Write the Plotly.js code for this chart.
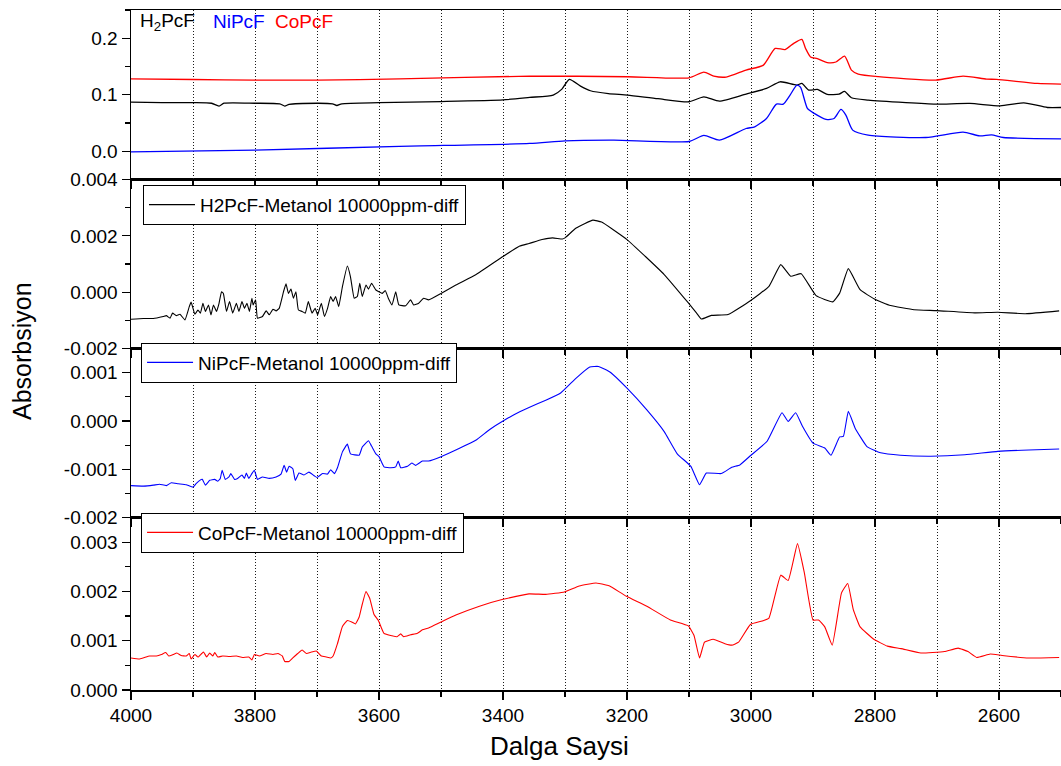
<!DOCTYPE html>
<html>
<head>
<meta charset="utf-8">
<script src="https://cdn.plot.ly/plotly-3.0.1.min.js"></script>
<style>
  html, body { margin: 0; padding: 0; background: #fff; }
  #chart { width: 1061px; height: 766px; }
</style>
</head>
<body>
<div id="chart"></div>
<script>
// ---- Raw spectra (wavenumber, absorbance) ----
const topH2Wn = [4000, 3950, 3900, 3870, 3858, 3850, 3800, 3760, 3752, 3745, 3700, 3675, 3668, 3660, 3600, 3500, 3400, 3357, 3319, 3305, 3293, 3275, 3259, 3230, 3199, 3150, 3100, 3076, 3051, 3008, 2975, 2953, 2926, 2918, 2907, 2893, 2877, 2858, 2849, 2838, 2811, 2750, 2702, 2647, 2598, 2560, 2522, 2500];
const topH2Abs = [0.087, 0.086, 0.086, 0.085, 0.080, 0.085, 0.085, 0.084, 0.080, 0.083, 0.085, 0.084, 0.081, 0.084, 0.086, 0.088, 0.091, 0.0953, 0.0994, 0.110, 0.1272, 0.1153, 0.1071, 0.102, 0.0994, 0.093, 0.0876, 0.0964, 0.0888, 0.1012, 0.1112, 0.123, 0.1171, 0.120, 0.1083, 0.1094, 0.1006, 0.1012, 0.1059, 0.0947, 0.0905, 0.086, 0.0835, 0.0846, 0.0805, 0.0858, 0.0775, 0.0775];

const topNiWn = [4000, 3800, 3567, 3357, 3300, 3221, 3100, 3076, 3051, 3008, 2994, 2975, 2959, 2948, 2937, 2926, 2920, 2909, 2898, 2879, 2866, 2855, 2847, 2836, 2811, 2718, 2658, 2631, 2612, 2593, 2500];
const topNiAbs = [-0.001, 0.002, 0.0088, 0.0138, 0.0185, 0.0197, 0.0173, 0.028, 0.0197, 0.0403, 0.0433, 0.058, 0.0834, 0.0834, 0.0994, 0.117, 0.113, 0.0758, 0.067, 0.0563, 0.058, 0.074, 0.064, 0.0374, 0.0285, 0.0244, 0.0338, 0.0273, 0.029, 0.0244, 0.022];

const topCoWn = [4000, 3900, 3800, 3700, 3567, 3357, 3199, 3100, 3076, 3060, 3040, 3008, 2980, 2961, 2945, 2931, 2918, 2912, 2904, 2893, 2877, 2863, 2849, 2838, 2827, 2795, 2702, 2658, 2620, 2604, 2538, 2500];
const topCoAbs = [0.128, 0.127, 0.126, 0.126, 0.128, 0.133, 0.1319, 0.130, 0.140, 0.133, 0.1313, 0.1437, 0.1525, 0.182, 0.180, 0.191, 0.198, 0.182, 0.167, 0.164, 0.157, 0.158, 0.1685, 0.1437, 0.1366, 0.132, 0.126, 0.133, 0.1278, 0.1272, 0.120, 0.119];

// ---- Difference spectra (Metanol 10000 ppm) ----
const h2DiffWn = [4000, 3980, 3964, 3948, 3943, 3937, 3933, 3927, 3921, 3913, 3906, 3903, 3897, 3892, 3888, 3884, 3880, 3875, 3871, 3867, 3862, 3858, 3854, 3851, 3846, 3841, 3836, 3830, 3826, 3821, 3817, 3813, 3809, 3805, 3803, 3799, 3796, 3788, 3782, 3777, 3771, 3766, 3761, 3754, 3750, 3746, 3742, 3738, 3734, 3730, 3724, 3719, 3714, 3708, 3703, 3699, 3693, 3688, 3683, 3678, 3674, 3670, 3665, 3659, 3651, 3646, 3640, 3635, 3631, 3627, 3621, 3617, 3612, 3605, 3600, 3595, 3590, 3585, 3579, 3573, 3568, 3557, 3549, 3544, 3536, 3528, 3520, 3500, 3476, 3444, 3400, 3373, 3358, 3337, 3320, 3304, 3300, 3282, 3255, 3241, 3200, 3140, 3101, 3088, 3080, 3064, 3037, 3001, 2971, 2952, 2936, 2919, 2895, 2868, 2857, 2843, 2824, 2801, 2775, 2737, 2701, 2639, 2602, 2557, 2503];
const h2DiffAbs = [-0.00096, -0.00093, -0.00093, -0.00086, -0.00083, -0.00092, -0.00074, -0.00083, -0.00078, -0.00098, -0.00051, -0.00035, -0.00078, -0.00063, -0.00074, -0.00039, -0.00068, -0.00045, -0.0008, -0.00045, -0.00068, -0.00039, 0.00002, -0.00004, -0.00068, -0.00033, -0.00074, -0.00039, -0.00068, -0.00033, -0.00057, -0.00039, -0.00068, -0.00021, -0.00045, -0.00027, -0.00092, -0.00086, -0.00066, -0.0008, -0.0006, -0.00066, -0.00057, 0.00002, 0.0003, -0.00004, 0.00011, -0.00021, 0.00002, -0.00063, -0.00068, -0.00074, -0.00033, -0.00074, -0.00057, -0.0008, -0.00039, -0.00086, -0.00057, -0.00015, -0.00033, -0.00015, -0.00051, 0.0002, 0.00093, 0.00055, -0.00021, -0.00015, 0.00032, -0.00015, 0.00026, 0.00011, 0.00032, 0.00008, 0.00002, -0.00004, 0.00006, -0.00021, -0.00045, 0.00002, -0.00045, -0.00048, -0.00027, -0.00045, -0.00039, -0.00021, -0.00027, -0.00004, 0.00026, 0.00062, 0.00127, 0.00164, 0.00173, 0.00187, 0.00193, 0.00189, 0.00193, 0.00228, 0.00256, 0.00249, 0.00187, 0.00063, -0.00038, -0.00073, -0.00095, -0.00082, -0.00079, -0.0003, 0.00021, 0.00098, 0.00057, 0.00066, -0.00012, -0.00034, -0.00003, 0.00084, 0.00009, -0.00024, -0.00047, -0.00062, -0.00065, -0.00073, -0.00071, -0.00076, -0.00066];

const niDiffWn = [4000, 3980, 3964, 3954, 3943, 3935, 3924, 3911, 3900, 3895, 3889, 3885, 3880, 3873, 3865, 3860, 3856, 3853, 3848, 3842, 3839, 3833, 3828, 3821, 3817, 3814, 3810, 3805, 3801, 3796, 3788, 3777, 3766, 3758, 3753, 3749, 3745, 3739, 3735, 3729, 3721, 3713, 3704, 3700, 3691, 3683, 3678, 3672, 3667, 3659, 3651, 3646, 3632, 3627, 3617, 3612, 3605, 3600, 3592, 3581, 3573, 3569, 3565, 3554, 3547, 3541, 3530, 3520, 3500, 3471, 3444, 3422, 3400, 3373, 3358, 3331, 3307, 3282, 3260, 3246, 3227, 3200, 3168, 3140, 3119, 3097, 3083, 3072, 3048, 3031, 3018, 3001, 2974, 2950, 2940, 2928, 2917, 2900, 2881, 2871, 2857, 2851, 2843, 2832, 2813, 2791, 2759, 2710, 2655, 2602, 2552, 2503];
const niDiffAbs = [-0.00134, -0.00135, -0.00133, -0.00131, -0.00134, -0.00128, -0.0013, -0.00132, -0.00137, -0.0013, -0.00123, -0.00121, -0.00133, -0.00123, -0.00121, -0.00125, -0.00119, -0.00102, -0.00121, -0.00116, -0.00109, -0.00121, -0.00119, -0.00112, -0.00119, -0.00108, -0.00119, -0.00109, -0.00102, -0.00121, -0.00116, -0.00119, -0.00116, -0.0011, -0.00092, -0.00106, -0.00094, -0.00099, -0.00123, -0.00108, -0.00112, -0.00106, -0.00114, -0.00117, -0.00109, -0.0011, -0.00101, -0.00109, -0.00097, -0.00064, -0.00048, -0.00068, -0.00071, -0.00054, -0.00041, -0.00052, -0.00068, -0.00074, -0.00095, -0.00097, -0.00095, -0.00083, -0.00097, -0.00094, -0.00087, -0.00092, -0.00083, -0.00083, -0.00074, -0.00057, -0.0004, -0.00018, 0.0, 0.00019, 0.00028, 0.00043, 0.00058, 0.00089, 0.00112, 0.00113, 0.00101, 0.00068, 0.00023, -0.00022, -0.00068, -0.00094, -0.00132, -0.00108, -0.00109, -0.00096, -0.00091, -0.00072, -0.00042, 0.00017, -0.00001, 0.00017, -0.00011, -0.00046, -0.00056, -0.00071, -0.00033, -0.00032, 0.0002, -0.00015, -0.00053, -0.00066, -0.00071, -0.00073, -0.0007, -0.00063, -0.0006, -0.00058];

const coDiffWn = [4000, 3986, 3970, 3959, 3951, 3944, 3939, 3932, 3926, 3919, 3911, 3906, 3903, 3897, 3892, 3886, 3883, 3878, 3873, 3868, 3865, 3860, 3852, 3841, 3830, 3820, 3810, 3805, 3801, 3793, 3782, 3771, 3763, 3756, 3752, 3745, 3739, 3731, 3724, 3717, 3709, 3701, 3693, 3685, 3678, 3674, 3667, 3659, 3651, 3644, 3638, 3632, 3627, 3621, 3615, 3608, 3601, 3592, 3579, 3571, 3565, 3560, 3549, 3538, 3530, 3520, 3500, 3476, 3438, 3400, 3358, 3331, 3301, 3277, 3250, 3234, 3228, 3201, 3168, 3130, 3101, 3092, 3083, 3075, 3061, 3042, 3031, 3020, 3001, 2982, 2971, 2952, 2940, 2925, 2914, 2900, 2891, 2881, 2869, 2854, 2844, 2835, 2824, 2802, 2780, 2758, 2726, 2688, 2666, 2650, 2636, 2614, 2595, 2552, 2503];
const coDiffAbs = [0.00065, 0.00063, 0.00069, 0.00069, 0.00072, 0.00076, 0.00069, 0.00072, 0.00075, 0.0007, 0.00069, 0.00074, 0.00063, 0.00072, 0.00067, 0.00074, 0.00077, 0.00067, 0.00075, 0.00069, 0.00076, 0.00067, 0.00069, 0.00068, 0.00069, 0.00066, 0.00067, 0.00061, 0.00072, 0.00069, 0.00074, 0.00072, 0.00074, 0.00069, 0.00058, 0.00058, 0.00065, 0.00074, 0.00081, 0.00074, 0.00077, 0.00079, 0.00069, 0.00067, 0.00065, 0.00069, 0.00094, 0.00129, 0.00141, 0.00138, 0.00134, 0.00148, 0.00174, 0.002, 0.00186, 0.00153, 0.00141, 0.00115, 0.0011, 0.00108, 0.00114, 0.00108, 0.00112, 0.00115, 0.00122, 0.00126, 0.00138, 0.00152, 0.0017, 0.00184, 0.00195, 0.00194, 0.00199, 0.00211, 0.00217, 0.00213, 0.00211, 0.0019, 0.0017, 0.00142, 0.0013, 0.00111, 0.00065, 0.00097, 0.00103, 0.00094, 0.00091, 0.00097, 0.00133, 0.0014, 0.00146, 0.00233, 0.00222, 0.00297, 0.00238, 0.00142, 0.00142, 0.00128, 0.00091, 0.00197, 0.00216, 0.00163, 0.00128, 0.00103, 0.00089, 0.00084, 0.00075, 0.00078, 0.00085, 0.00078, 0.00066, 0.00073, 0.0007, 0.00065, 0.00066];

// ---- Labels and ticks ----
const seriesNames = ['H2PcF-Metanol 10000ppm-diff', 'NiPcF-Metanol 10000ppm-diff', 'CoPcF-Metanol 10000ppm-diff'];
const topLabels = ['H<sub>2</sub>PcF', 'NiPcF', 'CoPcF'];
const xTickVals = [4000, 3800, 3600, 3400, 3200, 3000, 2800, 2600];
const xTickText = ['4000', '3800', '3600', '3400', '3200', '3000', '2800', '2600'];
const topTickVals = [0.0, 0.1, 0.2];
const topTickText = ['0.0', '0.1', '0.2'];
const h2TickVals = [-0.002, 0.0, 0.002, 0.004];
const h2TickText = ['-0.002', '0.000', '0.002', '0.004'];
const niTickVals = [-0.002, -0.001, 0.0, 0.001];
const niTickText = ['-0.002', '-0.001', '0.000', '0.001'];
const coTickVals = [0.0, 0.001, 0.002, 0.003];
const coTickText = ['0.000', '0.001', '0.002', '0.003'];
const xTitle = 'Dalga Saysi';
const yTitle = 'Absorbsiyon';

const BLACK = '#000000', BLUE = '#0000ff', RED = '#ff0000';
const FONT = 'Liberation Sans, Arial, sans-serif';

// panel domains (bottom to top)
const dCo = [0, 0.2537], dNi = [0.2537, 0.502], dH2 = [0.502, 0.7507], dTop = [0.7507, 1];

function lineTrace(x, y, color, xa, ya, opts) {
  return Object.assign({
    type: 'scatter', mode: 'lines', x: x, y: y, xaxis: xa, yaxis: ya,
    line: { color: color, width: 1.1, shape: 'spline', smoothing: 0.35 },
    hoverinfo: 'skip'
  }, opts || {});
}

const traces = [
  lineTrace(topCoWn, topCoAbs, RED, 'x4', 'y4', { showlegend: false, line: { color: RED, width: 1.3, shape: 'spline', smoothing: 0.6 } }),
  lineTrace(topH2Wn, topH2Abs, BLACK, 'x4', 'y4', { showlegend: false, line: { color: BLACK, width: 1.3, shape: 'spline', smoothing: 0.6 } }),
  lineTrace(topNiWn, topNiAbs, BLUE, 'x4', 'y4', { showlegend: false, line: { color: BLUE, width: 1.3, shape: 'spline', smoothing: 0.6 } }),
  lineTrace(h2DiffWn, h2DiffAbs, BLACK, 'x3', 'y3', { name: seriesNames[0], legend: 'legend' }),
  lineTrace(niDiffWn, niDiffAbs, BLUE, 'x2', 'y2', { name: seriesNames[1], legend: 'legend2' }),
  lineTrace(coDiffWn, coDiffAbs, RED, 'x', 'y', { name: seriesNames[2], legend: 'legend3' })
];

const tickFont = { family: FONT, size: 19, color: '#000' };
const GRID = { color: '#1a1a1a', dash: '1px,2px' };

function xAxis(anchor, showLabels) {
  return {
    anchor: anchor, matches: anchor === 'y' ? undefined : 'x',
    range: [4000, 2500], autorange: false,
    tickmode: 'array', tickvals: xTickVals, ticktext: xTickText,
    showticklabels: showLabels, tickfont: tickFont,
    ticks: 'outside', ticklen: 8, tickwidth: 1.2, tickcolor: '#000',
    showline: true, mirror: true, linecolor: '#000', linewidth: 1.5,
    showgrid: true, gridcolor: GRID.color, gridwidth: 1, griddash: GRID.dash,
    minor: { tickmode: 'linear', tick0: 0, dtick: 100, ticks: 'outside', ticklen: 5, tickcolor: '#000',
             showgrid: true, gridcolor: GRID.color, gridwidth: 1, griddash: GRID.dash },
    zeroline: false, fixedrange: true
  };
}

function yAxis(domain, range, vals, text, minorStep) {
  return {
    domain: domain, range: range, autorange: false, anchor: 'x',
    tickmode: 'array', tickvals: vals, ticktext: text, tickfont: tickFont,
    ticks: 'outside', ticklen: 8, tickwidth: 1.2, tickcolor: '#000',
    showline: true, mirror: true, linecolor: '#000', linewidth: 1.5,
    showgrid: false, zeroline: false, fixedrange: true,
    minor: { tickmode: 'linear', tick0: 0, dtick: minorStep, ticks: 'outside', ticklen: 5, tickcolor: '#000' }
  };
}

function legendBox(x, y) {
  return {
    x: x, y: y, xanchor: 'left', yanchor: 'top', xref: 'paper', yref: 'paper',
    bgcolor: '#fff', bordercolor: '#000', borderwidth: 1, itemwidth: 46,
    font: { family: FONT, size: 19, color: '#000' }
  };
}

const layout = {
  width: 1061, height: 766,
  margin: { l: 131, r: 0, t: 10, b: 76 },
  paper_bgcolor: '#fff', plot_bgcolor: '#fff',
  font: { family: FONT, color: '#000' },
  xaxis: xAxis('y', true),
  xaxis2: xAxis('y2', false),
  xaxis3: xAxis('y3', false),
  xaxis4: xAxis('y4', false),
  yaxis: yAxis(dCo, [0, 0.0035], coTickVals, coTickText, 0.0005),
  yaxis2: Object.assign(yAxis(dNi, [-0.002, 0.0015], niTickVals, niTickText, 0.0005), { anchor: 'x2' }),
  yaxis3: Object.assign(yAxis(dH2, [-0.00200001, 0.00400001], h2TickVals, h2TickText, 0.001), { anchor: 'x3' }),
  yaxis4: Object.assign(yAxis(dTop, [-0.05, 0.25], topTickVals, topTickText, 0.05), { anchor: 'x4' }),
  legend: legendBox(0.0129, 0.743),
  legend2: legendBox(0.0108, 0.511),
  legend3: legendBox(0.0108, 0.261),
  annotations: [
    { text: topLabels[0], xref: 'paper', yref: 'paper', x: 0.0075, y: 0.9824, xanchor: 'left', yanchor: 'middle', showarrow: false, font: { family: FONT, size: 19, color: BLACK } },
    { text: topLabels[1], xref: 'paper', yref: 'paper', x: 0.0857, y: 0.9824, xanchor: 'left', yanchor: 'middle', showarrow: false, font: { family: FONT, size: 19, color: BLUE } },
    { text: topLabels[2], xref: 'paper', yref: 'paper', x: 0.1527, y: 0.9824, xanchor: 'left', yanchor: 'middle', showarrow: false, font: { family: FONT, size: 19, color: RED } },
    { text: xTitle, xref: 'paper', yref: 'paper', x: 0.461, y: -0.0824, xanchor: 'center', yanchor: 'middle', showarrow: false, font: { family: FONT, size: 26, color: '#000' } },
    { text: yTitle, xref: 'paper', yref: 'paper', x: -0.1172, y: 0.4985, xanchor: 'center', yanchor: 'middle', textangle: -90, showarrow: false, font: { family: FONT, size: 25, color: '#000' } }
  ]
};

Plotly.newPlot('chart', traces, layout, { displayModeBar: false, staticPlot: true });
</script>
</body>
</html>
